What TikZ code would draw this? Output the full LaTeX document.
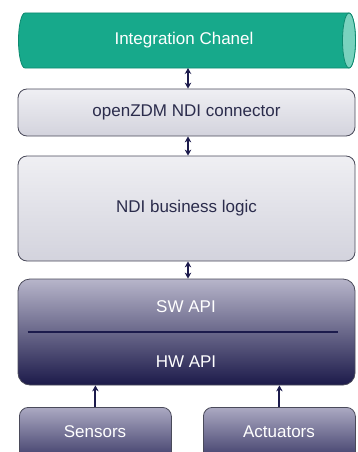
\documentclass[tikz,border=0pt]{standalone}
\usepackage{fontspec}
\setmainfont{Liberation Sans}
\usetikzlibrary{arrows.meta}
\definecolor{teal1}{HTML}{17A98B}
\definecolor{teal2}{HTML}{0E8A70}
\definecolor{tealcap}{HTML}{79D2BE}
\definecolor{navy}{HTML}{1C1B4C}
\definecolor{ink}{HTML}{2B2C4C}
\definecolor{edge}{HTML}{4A4A5A}
\definecolor{lighttop}{HTML}{EFEFF3}
\definecolor{lightbot}{HTML}{D3D3DD}
\definecolor{dtop}{HTML}{B7B5CA}
\definecolor{dbot}{HTML}{1C1A4A}
\definecolor{stop}{HTML}{ABA9C2}
\definecolor{sbot}{HTML}{2E2C5C}
\tikzset{
  txt/.style={font=\fontsize{17}{19}\selectfont, inner sep=0pt},
  lightbox/.style={draw=edge, line width=0.8pt, rounded corners=9pt,
    top color=lighttop, bottom color=lightbot,
    minimum width=337pt, text=ink, txt},
  darkbox/.style={draw=edge, line width=0.8pt, rounded corners=12pt,
    top color=dtop, bottom color=dbot, text=white, txt},
  devbox/.style={draw=edge, line width=0.8pt, rounded corners=9pt,
    top color=stop, bottom color=sbot,
    minimum width=152pt, minimum height=60pt, text=white, txt},
  link/.style={draw=navy, line width=2pt, {Stealth[length=6pt,width=6.5pt]}-{Stealth[length=6pt,width=6.5pt]}},
  feed/.style={draw=navy, line width=2pt, -{Stealth[length=6pt,width=6.5pt]}},
  lbl/.style={text=white, txt}
}
\begin{document}
\begin{tikzpicture}[x=1pt,y=-1pt]
\useasboundingbox (0,0) rectangle (358,452);
\clip (0,0) rectangle (358,452);

% channel drawn as a horizontal cylinder (y axis upward inside this scope)
\begin{scope}[y=1pt]
\path[fill=teal1, draw=teal2, line width=0.8pt]
  (25,-13) -- (349,-13) arc[start angle=90, end angle=-90, x radius=6.5, y radius=27.5]
  -- (25,-68) arc[start angle=270, end angle=90, x radius=6.5, y radius=27.5] -- cycle;
\path[fill=tealcap, draw=teal2, line width=0.8pt]
  (349,-40.5) ellipse[x radius=6.5, y radius=27.5];
\end{scope}
\node[lbl] (chan) at (184,40.5) {Integration Chanel};
\coordinate (chanb) at (186.5,68);

\node[lightbox, minimum height=47pt] (conn) at (186.5,112.5) {openZDM NDI connector};
\node[lightbox, minimum height=105pt] (logic) at (186.5,208.5) {NDI business logic};
\node[darkbox, minimum width=337pt, minimum height=106pt] (api) at (186.5,332) {};
\node[lbl] (sw) at (186,307) {SW API};
\node[lbl] (hw) at (186,362) {HW API};
\draw[navy, line width=2.4pt] ([xshift=10pt]api.west) -- ([xshift=-17pt]api.east);

\node[devbox, anchor=north west] (sens) at (19,407) {};
\node[lbl] (senst) at (95,432) {Sensors};
\node[devbox, anchor=north west] (act) at (203,407) {};
\node[lbl] (actt) at (279,432) {Actuators};

% connectors between layers
\draw[link] ([xshift=1.5pt]chanb) -- ([xshift=1.5pt]conn.north);
\draw[link] ([xshift=1.5pt]conn.south) -- ([xshift=1.5pt]logic.north);
\draw[link] ([xshift=1.5pt]logic.south) -- ([xshift=1.5pt]api.north);
\draw[feed] (sens.north) -- (sens.north |- api.south);
\draw[feed] (act.north) -- (act.north |- api.south);
\end{tikzpicture}
\end{document}
